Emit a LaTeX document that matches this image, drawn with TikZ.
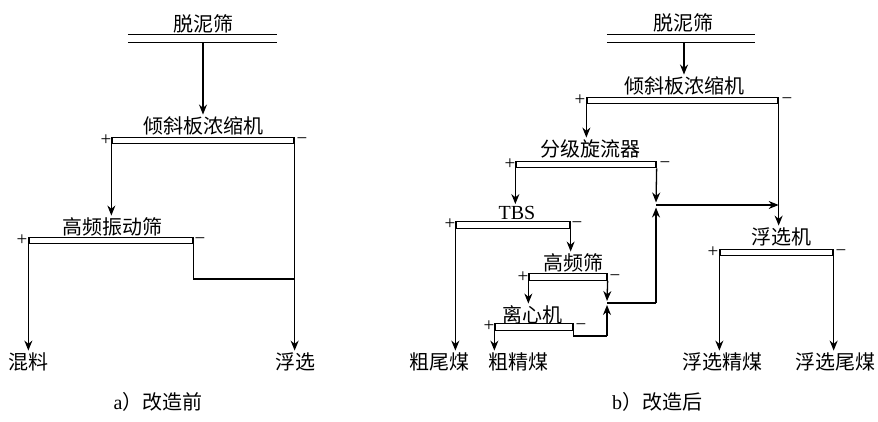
\documentclass[tikz,border=0pt]{standalone}
\usepackage{fontspec}
\setmainfont{Liberation Serif}
\newfontfamily\cjk{Noto Sans CJK SC}
\usetikzlibrary{arrows.meta}
\begin{document}
\begin{tikzpicture}[x=1pt,y=-1pt,
  ln/.style={line width=1.3pt},
  arr/.style={ln,-{Stealth[length=10pt,width=8pt]}},
  arrt/.style={arr,shorten >=2pt},
  sbox/.style={draw,line width=1.3pt,rectangle,inner sep=0pt,minimum height=6.5pt},
  dline/.style={draw=none,rectangle,inner sep=0pt,minimum height=7pt},
  lab/.style={font=\cjk\fontsize{20}{22}\selectfont,inner sep=0pt},
  pm/.style={font=\fontsize{19}{20}\selectfont,inner sep=0pt},
]
\useasboundingbox[fill=white] (0,0) rectangle (878,422);

% ---------- a) ----------
\node[lab] (t1) at (203,24) {脱泥筛};
\node[dline,minimum width=149pt] (s1) at (202.5,38.5) {};
\draw[ln] (s1.north west) -- (s1.north east);
\draw[ln] (s1.south west) -- (s1.south east);
\node[lab] (a1t) at (203,126) {倾斜板浓缩机};
\node[sbox,minimum width=182pt] (a1) at (203,140.5) {};
\node[pm] (a1p) at (106,140) {+};
\node[pm] (a1m) at (302,141) {−};
\node[lab] (b1t) at (112,227) {高频振动筛};
\node[sbox,minimum width=164pt] (b1) at (111,240.5) {};
\node[pm] (b1p) at (22,240) {+};
\node[pm] (b1m) at (200,241) {−};
\node[lab] (o1) at (29,362) {混料};
\node[lab] (o2) at (295,362) {浮选};
\node[lab] (cap1) at (158,402) {{\rmfamily a}）改造前};
\coordinate (j1) at (294,279);

\draw[arrt] (s1.south -| a1t.north) -- (a1t.north);
\draw[arrt] (a1.south west) -- (a1.south west |- b1t.north);
\draw[arrt] (a1.south east) -- (a1.south east |- o2.north);
\draw[arrt] (b1.south west) -- (b1.south west |- o1.north);
\draw[ln] (b1.south east) |- (j1);

% ---------- b) ----------
\node[lab] (t2) at (683,23) {脱泥筛};
\node[dline,minimum width=148pt] (s2) at (681,38.5) {};
\draw[ln] (s2.north west) -- (s2.north east);
\draw[ln] (s2.south west) -- (s2.south east);
\node[lab] (a2t) at (684,86) {倾斜板浓缩机};
\node[sbox,minimum width=191pt] (a2) at (682.5,100.5) {};
\node[pm] (a2p) at (580,100) {+};
\node[pm] (a2m) at (787,101) {−};

\node[lab] (ct) at (590,149) {分级旋流器};
\node[sbox,minimum width=140pt] (c) at (586,164.5) {};
\node[pm] (cp) at (510,164) {+};
\node[pm] (cm) at (665,165) {−};

\node[lab,font=\rmfamily\fontsize{20}{22}\selectfont] (tt) at (517,213) {TBS};
\node[sbox,minimum width=114pt] (tb) at (513,225) {};
\node[pm] (tbp) at (450,224) {+};
\node[pm] (tbm) at (577,225) {−};

\node[lab] (ht) at (573,263) {高频筛};
\node[sbox,minimum width=78pt] (h) at (568,277) {};
\node[pm] (hp) at (523,277) {+};
\node[pm] (hm) at (615,278) {−};

\node[lab] (lt) at (532,315) {离心机};
\node[sbox,minimum width=78pt] (l) at (534,327) {};
\node[pm] (lp) at (489,326) {+};
\node[pm] (lm) at (581,327) {−};

\node[lab] (ft) at (781,237) {浮选机};
\node[sbox,minimum width=113pt] (f) at (776.5,252.5) {};
\node[pm] (fp) at (713,252) {+};
\node[pm] (fm) at (841,253) {−};

\node[lab] (o3) at (439,362) {粗尾煤};
\node[lab] (o4) at (518,362) {粗精煤};
\node[lab] (o5) at (722,362) {浮选精煤};
\node[lab] (o6) at (835,362) {浮选尾煤};
\node[lab] (cap2) at (657,402) {{\rmfamily b}）改造后};

\coordinate (j2) at (656,205);
\coordinate (j3) at (607,303);
\coordinate (j4) at (607,336);

\draw[arrt] (s2.south -| a2t.north) -- (a2t.north);
\draw[arrt] (a2.south west) -- (a2.south west |- ct.north);
\draw[arrt] (a2.south east) -- (a2.south east |- ft.north);
\draw[arrt] (c.south west) -- (c.south west |- tt.north);
\draw[arr] (c.south east) -- ([yshift=2.5pt]j2);
\draw[ln] (j3) -- (j3 -| j2);
\draw[arr] (j3 -| j2) -- ([yshift=-2.5pt]j2);
\draw[arr] (j2) -- (j2 -| a2.south east);
\draw[arrt] (tb.south west) -- (tb.south west |- o3.north);
\draw[arrt] (tb.south east) -- (tb.south east |- ht.north);
\draw[arrt] (h.south west) -- (h.south west |- lt.north);
\draw[arr] (h.south east) -- ([yshift=2pt]j3);
\draw[ln] (l.south east) |- (j4);
\draw[arr] (j4) -- ([yshift=-2pt]j3);
\draw[arrt] (l.south west) -- (l.south west |- o4.north);
\draw[arrt] (f.south west) -- (f.south west |- o5.north);
\draw[arrt] (f.south east) -- (f.south east |- o6.north);
\end{tikzpicture}
\end{document}
